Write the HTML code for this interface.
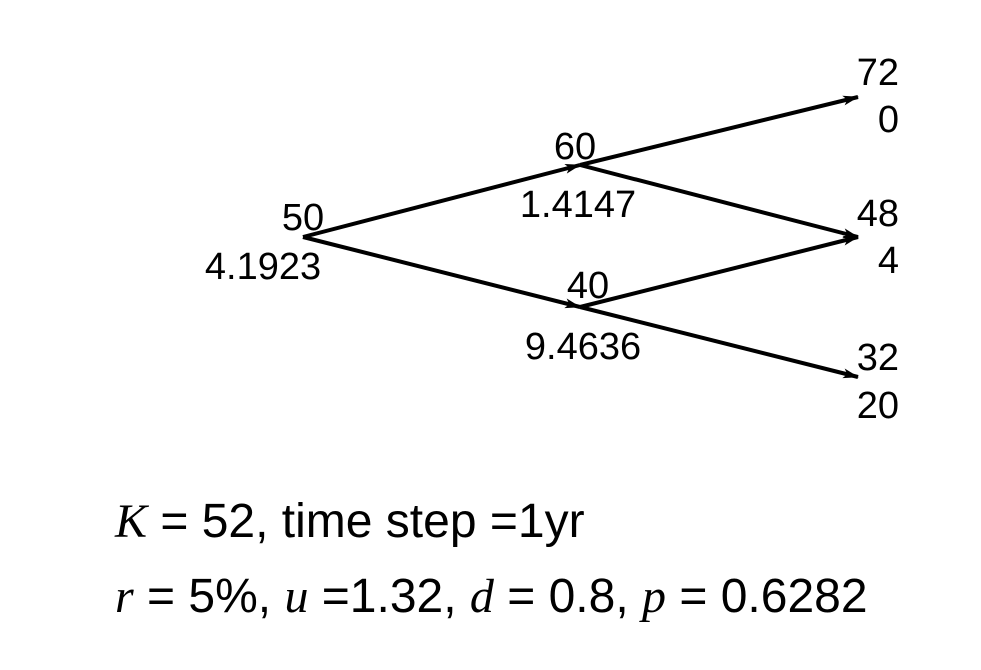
<!DOCTYPE html>
<html><head><meta charset="utf-8"><style>
html,body{margin:0;padding:0;background:#fff;}
svg{display:block;}
text{font-family:"Liberation Sans",sans-serif;fill:#000;}
.i{font-family:"Liberation Serif",serif;font-style:italic;}
</style></head><body>
<svg width="981" height="670">
<defs><marker id="ah" markerWidth="16" markerHeight="10" refX="15" refY="5" orient="auto" markerUnits="userSpaceOnUse"><path d="M0,0 L16,5 L0,10 L4,5 z" fill="#000"/></marker></defs>
<g id="edges" stroke="#000" stroke-width="4" fill="none"></g>
<g style="font-size:38px">
<text x="303" y="230" text-anchor="middle">50</text>
<text x="263" y="279" text-anchor="middle">4.1923</text>
<text x="575" y="159" text-anchor="middle">60</text>
<text x="578" y="217" text-anchor="middle">1.4147</text>
<text x="588" y="298" text-anchor="middle">40</text>
<text x="583" y="359" text-anchor="middle">9.4636</text>
<text x="899" y="85" text-anchor="end">72</text>
<text x="899" y="132" text-anchor="end">0</text>
<text x="899" y="226" text-anchor="end">48</text>
<text x="899" y="273" text-anchor="end">4</text>
<text x="899" y="370" text-anchor="end">32</text>
<text x="899" y="418" text-anchor="end">20</text>
</g>
<text x="115" y="537" style="font-size:48px"><tspan class="i">K</tspan> = 52, time step =1yr</text>
<text x="115" y="612" style="font-size:48px"><tspan class="i">r</tspan> = 5%, <tspan class="i">u</tspan> =1.32, <tspan class="i">d</tspan> = 0.8, <tspan class="i">p</tspan> = 0.6282</text>
</svg>
<script>
const nodeX=[303,580,858];
const nodeY={root:237,u:165,d:307,uu:97,ud:237,dd:377};
const edges=[["root",0,"u",1],["root",0,"d",1],["u",1,"uu",2],["u",1,"ud",2],["d",1,"ud",2],["d",1,"dd",2]];
const g=document.getElementById('edges');
edges.forEach(e=>{
 const l=document.createElementNS('http://www.w3.org/2000/svg','line');
 l.setAttribute('x1',nodeX[e[1]]);l.setAttribute('y1',nodeY[e[0]]);
 l.setAttribute('x2',nodeX[e[3]]);l.setAttribute('y2',nodeY[e[2]]);
 l.setAttribute('marker-end','url(#ah)');
 
 
 g.appendChild(l);
});
</script>
</body></html>
